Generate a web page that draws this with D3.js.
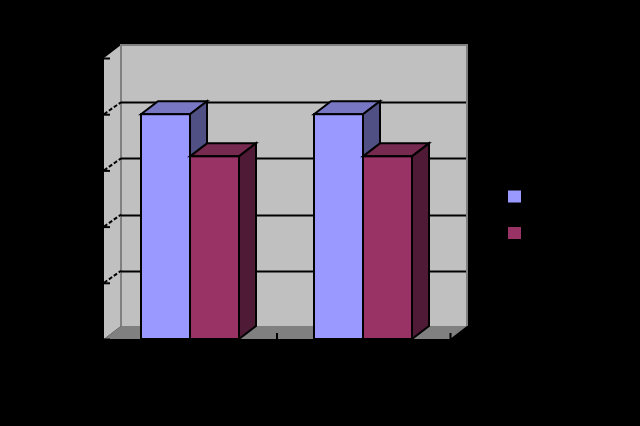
<!DOCTYPE html>
<html><head><meta charset="utf-8">
<script src="https://cdn.jsdelivr.net/npm/d3@7"></script>
<style>html,body{margin:0;padding:0;background:#000}svg{display:block}</style>
</head><body><svg id="c" width="640" height="426"></svg>
<script>
const categories = ["Category 1", "Category 2"];
const seriesNames = ["Series 1", "Series 2"];
const seriesA = [4, 4];
const seriesB = [3.25, 3.25];
const valueTicks = [0, 1, 2, 3, 4, 5];
const seriesFill = ["#9999ff", "#993366"];
const seriesTop = ["#7777c4", "#772a50"];
const seriesSide = ["#505085", "#4f1a35"];

const svg = d3.select("#c");
const L = 104, R = 450, B = 339, T = 58, dx = 17, dy = 13;
const x = d3.scaleBand().domain(categories).range([L, R]);
const y = d3.scaleLinear().domain([0, 5]).range([B, T]);
const inner = d3.scaleBand().domain([0, 1]).range([37, 135]);
const poly = (g, pts, fill, stroke, w) => g.append("polygon")
  .attr("points", pts.map(p => p.join(",")).join(" "))
  .attr("fill", fill).attr("stroke", stroke || "none").attr("stroke-width", w || 0);

const wall = svg.append("g");
poly(wall, [[L + dx, T - dy], [R + dx + 1, T - dy], [R + dx + 1, B - dy], [L + dx, B - dy]], "#c0c0c0");
poly(wall, [[L, T], [L + dx, T - dy], [L + dx, B - dy], [L, B]], "#c0c0c0");
poly(wall, [[L, B], [L + dx, B - dy], [R + dx, B - dy], [R, B]], "#808080");
wall.append("path").attr("fill", "none").attr("stroke", "#808080").attr("stroke-width", 2)
  .attr("d", `M${L + dx},${B - dy}V${T - dy}H${R + dx}V${B - dy}`);

const grid = svg.append("g");
grid.selectAll("line.g").data(valueTicks.slice(1, -1)).join("line").attr("class", "g")
  .attr("x1", L + dx).attr("x2", R + dx - 1)
  .attr("y1", d => Math.round(y(d) - dy) + 1.5).attr("y2", d => Math.round(y(d) - dy) + 1.5)
  .attr("stroke", "#000").attr("stroke-width", 2);
grid.selectAll("line.s").data(valueTicks.slice(1, -1)).join("line").attr("class", "s")
  .attr("x1", L).attr("x2", L + dx)
  .attr("y1", d => y(d)).attr("y2", d => y(d) - dy + 1)
  .attr("stroke", "#000").attr("stroke-width", 2).attr("stroke-dasharray", "4 2");

const yAxis = d3.axisLeft(y).tickValues(valueTicks).tickSize(-7).tickFormat("");
const yg = svg.append("g").attr("transform", `translate(${L - 1},0)`).call(yAxis);
yg.select(".domain").remove();
yg.selectAll("line").attr("stroke", "#000").attr("stroke-width", 2);
const xAxis = d3.axisBottom(d3.scaleLinear().domain([0, 2]).range([L - 1, R])).tickValues([1, 2]).tickSize(-6).tickFormat("");
const xg = svg.append("g").attr("transform", `translate(0,${B})`).call(xAxis);
xg.select(".domain").remove();
xg.selectAll("line").attr("stroke", "#000").attr("stroke-width", 2);

const bars = svg.append("g");
categories.forEach((c, i) => {
  [seriesA, seriesB].forEach((vals, s) => {
    const x0 = x(c) + inner(s), x1 = x0 + inner.bandwidth(), yt = y(vals[i]);
    const g = bars.append("g");
    poly(g, [[x0, yt], [x0 + dx, yt - dy], [x1 + dx, yt - dy], [x1, yt]], seriesTop[s], "#000", 2);
    poly(g, [[x1, yt], [x1 + dx, yt - dy], [x1 + dx, B - dy], [x1, B]], seriesSide[s], "#000", 2);
    g.append("rect").attr("x", x0).attr("y", yt).attr("width", x1 - x0).attr("height", B - yt)
      .attr("fill", seriesFill[s]).attr("stroke", "#000").attr("stroke-width", 2);
  });
});

const legendY = d3.scalePoint().domain(seriesNames).range([196.5, 233]);
svg.append("g").selectAll("rect").data(seriesNames).join("rect")
  .attr("x", 508).attr("y", d => legendY(d) - 6).attr("width", 13).attr("height", 12)
  .attr("fill", (d, i) => seriesFill[i]);
</script></body></html>
